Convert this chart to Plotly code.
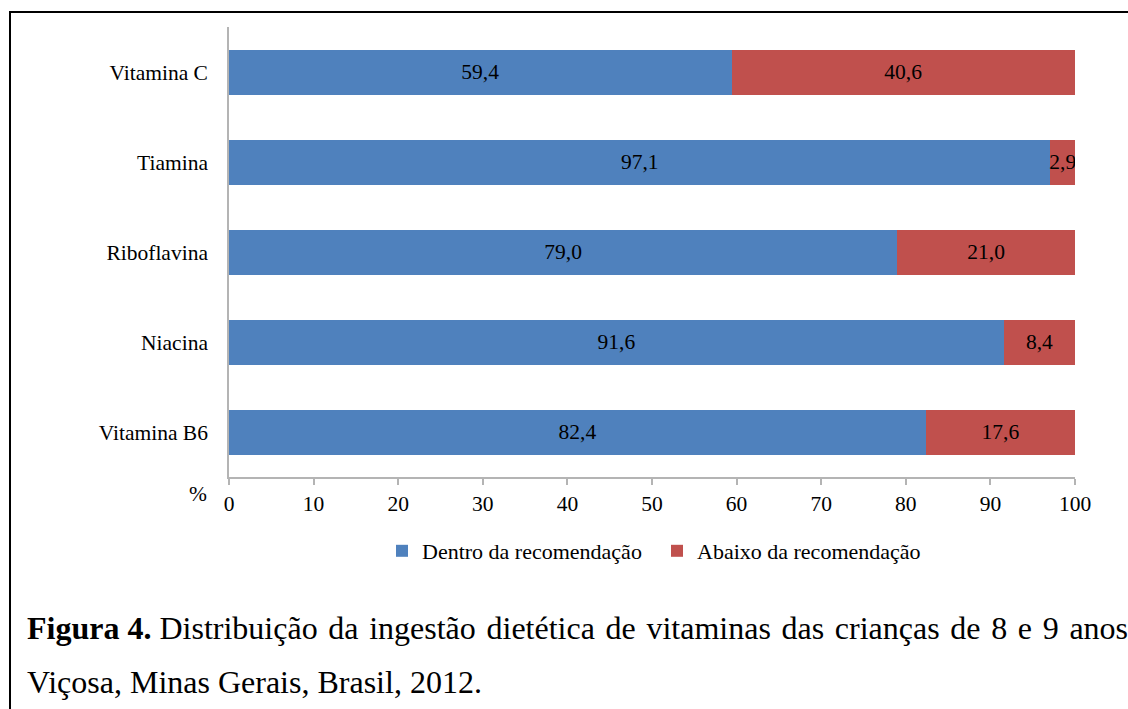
import plotly.graph_objects as go

vitaminas = ["Vitamina C", "Tiamina", "Riboflavina", "Niacina", "Vitamina B6"]
dentro = [59.4, 97.1, 79.0, 91.6, 82.4]
abaixo = [40.6, 2.9, 21.0, 8.4, 17.6]
x_ticks = [0, 10, 20, 30, 40, 50, 60, 70, 80, 90, 100]

SERIF = "Liberation Serif, Times New Roman, serif"
AXIS_GRAY = "#b4b4b4"
FS = 21.5

# plot area on screen: x 229..1075, y 27..477
L, T = 229, 27
R, B = 1128 - 1075, 709 - 477
PW, PH = 1128 - L - R, 709 - T - B


def px(xs):
    return (xs - L) / PW


def py(ys):
    return (709 - B - ys) / PH


fig = go.Figure()
for name, vals, color in [("Dentro da recomendação", dentro, "#4f81bd"),
                          ("Abaixo da recomendação", abaixo, "#c0504d")]:
    fig.add_trace(go.Bar(
        y=vitaminas, x=vals, orientation="h", name=name,
        marker=dict(color=color, line=dict(width=0)),
        texttemplate="%{x:.1f}", textposition="inside", textangle=0,
        insidetextanchor="middle", constraintext="none",
        textfont=dict(family=SERIF, size=FS, color="black"),
    ))

fig.update_layout(
    width=1128, height=709,
    margin=dict(l=L, r=R, t=T, b=B),
    barmode="stack", bargap=0.5,
    separators=", ",
    paper_bgcolor="white", plot_bgcolor="white",
    font=dict(family=SERIF, size=FS, color="black"),
    showlegend=True,
    legend=dict(
        orientation="h", x=px(657), xanchor="center", y=py(551), yanchor="middle",
        font=dict(family=SERIF, size=22, color="black"),
        traceorder="normal", itemwidth=30, entrywidth=230,
    ),
    xaxis=dict(
        range=[0, 100], tickvals=x_ticks, showgrid=False, zeroline=False,
        showline=True, linecolor=AXIS_GRAY, linewidth=1.5,
        ticks="outside", ticklen=6, tickcolor=AXIS_GRAY, tickwidth=1.5,
        tickfont=dict(family=SERIF, size=FS, color="black"),
    ),
    yaxis=dict(
        autorange="reversed", showgrid=False, zeroline=False,
        showline=True, linecolor=AXIS_GRAY, linewidth=1.5,
        ticks="", ticklabelstandoff=15,
        tickfont=dict(family=SERIF, size=FS, color="black"),
    ),
)

fig.add_annotation(
    text="%", xref="paper", yref="paper", x=px(187), y=py(508),
    showarrow=False, font=dict(family=SERIF, size=FS, color="black"),
)

# justified caption line: a hair space widens each word gap a little
hs = "\u200a"
line1 = "<b>Figura 4.</b> " + (hs + " ").join(
    "Distribuição da ingestão dietética de vitaminas das crianças de 8 e 9 anos".split(" "))
fig.add_annotation(
    text=line1,
    xref="paper", yref="paper", x=px(25), y=py(628), xanchor="left", yanchor="middle",
    showarrow=False, font=dict(family=SERIF, size=32, color="black"),
)
fig.add_annotation(
    text="Viçosa, Minas Gerais, Brasil, 2012.",
    xref="paper", yref="paper", x=px(25), y=py(682), xanchor="left", yanchor="middle",
    showarrow=False, font=dict(family=SERIF, size=32, color="black"),
)

# outer frame around the figure (right and bottom edges fall outside the picture)
fig.add_shape(
    type="rect", xref="paper", yref="paper",
    x0=px(10), x1=px(1160), y0=py(12), y1=py(740),
    line=dict(color="black", width=2), fillcolor="rgba(0,0,0,0)", layer="above",
)

# no page margin, so the figure sits at the window's top-left corner
fig.write_html(
    "out.html",
    config={"displayModeBar": False},
    post_script="document.body.style.margin='0';document.body.style.overflow='hidden';",
)
